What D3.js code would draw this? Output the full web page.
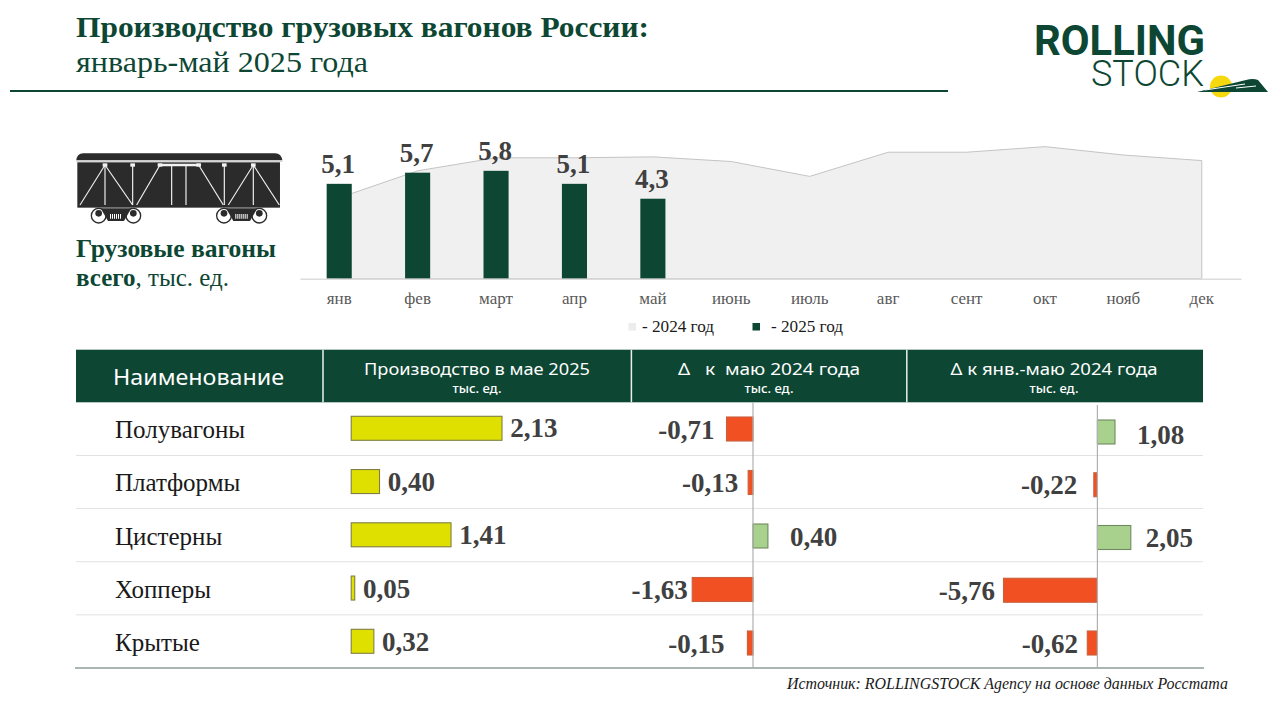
<!doctype html>
<html>
<head>
<meta charset="utf-8">
<title>Производство грузовых вагонов России</title>
<script src="https://cdn.jsdelivr.net/npm/d3@7"></script>
<style>
  body { margin: 0; background: #fff; }
  svg { display: block; }
  text { font-family: "Liberation Serif", serif; }
  .head { font-family: "Noto Sans", sans-serif; fill: #fff; text-anchor: middle; }
  .val { font-weight: bold; font-size: 27px; fill: #404040; }
  .row { font-size: 25px; fill: #1a1a1a; }
</style>
</head>
<body>
<svg id="chart" width="1280" height="709"></svg>
<script>
// data
var months = ["янв", "фев", "март", "апр", "май", "июнь", "июль", "авг", "сент", "окт", "нояб", "дек"];
var prod2024 = [4.35, 5.8, 6.5, 6.5, 6.55, 6.3, 5.5, 6.8, 6.8, 7.1, 6.65, 6.35];
var prod2025 = [5.1, 5.7, 5.8, 5.1, 4.3];
var wagonTypes = ["Полувагоны", "Платформы", "Цистерны", "Хопперы", "Крытые"];
var mayOutput = [2.13, 0.40, 1.41, 0.05, 0.32];
var deltaMay = [-0.71, -0.13, 0.40, -1.63, -0.15];
var deltaJanMay = [1.08, -0.22, 2.05, -5.76, -0.62];

// label gaps are uneven in the original
var gapMay = [8.2, 8.2, 8.2, 8.2, 8.2];
var gapDeltaMay = [12, 10, 22, 4.5, 23];
var gapDeltaJanMay = [22, 16.6, 15, 8.6, 9.4];
var dropDeltaJanMay = [2, 0, 0, 0, 0];
var dropNone = [-0.5, 0, 0, 0, 0];

var GREEN = "#0d4734";
var svg = d3.select("#chart");
var ru = d3.formatLocale({decimal: ",", thousands: " ", grouping: [3], currency: ["", ""], minus: "-"});
var f1 = ru.format(".1f"), f2 = ru.format(".2f");

// title
svg.append("text").attr("x", 76).attr("y", 37).attr("font-size", 30).attr("font-weight", "bold")
  .attr("fill", GREEN).attr("textLength", 573).attr("lengthAdjust", "spacingAndGlyphs")
  .text("Производство грузовых вагонов России:");
svg.append("text").attr("x", 76).attr("y", 72).attr("font-size", 29)
  .attr("fill", GREEN).attr("textLength", 292).attr("lengthAdjust", "spacingAndGlyphs")
  .text("январь-май 2025 года");
svg.append("line").attr("x1", 10).attr("x2", 948).attr("y1", 91).attr("y2", 91)
  .attr("stroke", GREEN).attr("stroke-width", 2);

// logo
var logo = svg.append("g");
logo.append("text").attr("x", 1034).attr("y", 54.5).attr("font-size", 42).attr("font-weight", 700)
  .style("font-family", "Roboto, sans-serif").attr("fill", GREEN)
  .attr("textLength", 171).attr("lengthAdjust", "spacingAndGlyphs").text("ROLLING");
logo.append("text").attr("x", 1091).attr("y", 85.5).attr("font-size", 37).attr("font-weight", 300)
  .style("font-family", "Roboto, sans-serif").attr("fill", GREEN)
  .attr("textLength", 113).attr("lengthAdjust", "spacingAndGlyphs").text("STOCK");
logo.append("ellipse").attr("cx", 1221).attr("cy", 86.5).attr("rx", 11).attr("ry", 11).attr("fill", "#f6d80f");
logo.append("path").attr("d", "M1197 92 L1246 80 Q1253 78 1258 80 L1268 92 Z").attr("fill", GREEN);
logo.append("path").attr("d", "M1205 90 L1245 84 M1236 88 L1256 86").attr("stroke", "#fff").attr("stroke-width", 1).attr("fill", "none");

// wagon icon
var wagon = svg.append("g").attr("transform", "translate(70,145) scale(0.3333)");
wagon.append("path").attr("d", "M18 50 Q20 25 40 25 L615 25 Q635 25 638 50 Z").attr("fill", "#2b2b2b");
wagon.append("rect").attr("x", 22).attr("y", 52).attr("width", 608).attr("height", 136).attr("fill", "#2b2b2b");
wagon.append("line").attr("x1", 18).attr("x2", 640).attr("y1", 48).attr("y2", 48).attr("stroke", "#fff").attr("stroke-width", 4);
var struts = [[105,30],[105,105],[105,188],[188,188],[270,200],[305,305],[348,348],[386,460],[463,463],[550,475],[550,550],[550,628]];
wagon.selectAll("line.strut").data(struts).enter().append("line").attr("class", "strut")
  .attr("x1", function(d) { return d[0]; }).attr("x2", function(d) { return d[1]; })
  .attr("y1", 60).attr("y2", 180).attr("stroke", "#f2f2f2").attr("stroke-width", 3.5);
wagon.append("line").attr("x1", 265).attr("x2", 392).attr("y1", 60).attr("y2", 60).attr("stroke", "#f2f2f2").attr("stroke-width", 8);
[105, 188, 270, 386, 463, 550].forEach(function(x) {
  wagon.append("rect").attr("x", x - 7).attr("y", 55).attr("width", 14).attr("height", 10).attr("fill", "#f2f2f2");
});
[[86, 190], [462, 568]].forEach(function(p) {
  p.forEach(function(x) {
    wagon.append("circle").attr("cx", x).attr("cy", 212).attr("r", 22)
      .attr("fill", "#fff").attr("stroke", "#2b2b2b").attr("stroke-width", 4);
    wagon.append("circle").attr("cx", x).attr("cy", 205).attr("r", 10).attr("fill", "#2b2b2b");
  });
  wagon.append("path").attr("d", "M" + (p[0] + 6) + " 190 L" + (p[1] - 6) + " 190 L" + (p[1] - 28) + " 228 L" + (p[0] + 28) + " 228 Z").attr("fill", "#2b2b2b");
  wagon.append("line").attr("x1", p[0] + 34).attr("x2", p[1] - 34).attr("y1", 214).attr("y2", 214)
    .attr("stroke", "#fff").attr("stroke-width", 14).attr("stroke-dasharray", "3 3");
});

// side caption
svg.append("text").attr("x", 76).attr("y", 257).attr("font-size", 25).attr("font-weight", "bold")
  .attr("fill", GREEN).attr("textLength", 200).attr("lengthAdjust", "spacingAndGlyphs").text("Грузовые вагоны");
var cap = svg.append("text").attr("x", 76).attr("y", 286).attr("font-size", 25).attr("fill", GREEN)
  .attr("textLength", 153).attr("lengthAdjust", "spacingAndGlyphs");
cap.append("tspan").attr("font-weight", "bold").text("всего");
cap.append("tspan").text(", тыс. ед.");

// monthly chart
var x = d3.scaleBand().domain(months).range([300, 1241]).paddingInner(0.68).paddingOuter(0.34);
var y = d3.scaleLinear().domain([0, 8]).range([278.7, 129.9]);
var cx = function(i) { return x(months[i]) + x.bandwidth() / 2; };

var area = d3.area().x(function(d, i) { return cx(i); }).y0(y(0)).y1(function(d) { return y(d); });
svg.append("path").datum(prod2024).attr("d", area)
  .attr("fill", "#f0f0f0").attr("stroke", "#c4c4c4").attr("stroke-width", 1);

svg.selectAll("rect.b25").data(prod2025).enter().append("rect").attr("class", "b25")
  .attr("x", function(d, i) { return x(months[i]); }).attr("width", x.bandwidth())
  .attr("y", function(d) { return y(d); }).attr("height", function(d) { return y(0) - y(d); })
  .attr("fill", GREEN);
svg.selectAll("text.l25").data(prod2025).enter().append("text").attr("class", "val")
  .attr("x", function(d, i) { return cx(i) - 1; }).attr("y", function(d) { return y(d) - 10.5; })
  .attr("text-anchor", "middle").text(function(d) { return f1(d); });

var xAxis = svg.append("g").attr("transform", "translate(0," + y(0) + ")")
  .call(d3.axisBottom(x).tickSize(0).tickPadding(13));
xAxis.select(".domain").attr("stroke", "#dcdcdc").attr("stroke-width", 1.5);
xAxis.selectAll("text").style("font-family", '"Liberation Serif", serif').attr("font-size", 17).attr("fill", "#595959");

// legend
var legend = [["- 2024 год", "#ececec", 628.5, 642], ["- 2025 год", GREEN, 752.5, 771]];
legend.forEach(function(l) {
  svg.append("rect").attr("x", l[2]).attr("y", 323).attr("width", 7.5).attr("height", 7.5).attr("fill", l[1]);
  svg.append("text").attr("x", l[3]).attr("y", 332).attr("font-size", 16).attr("fill", "#1a1a1a").attr("textLength", 72).attr("lengthAdjust", "spacingAndGlyphs").text(l[0]);
});

// table header
svg.append("rect").attr("x", 76).attr("y", 349.7).attr("width", 1127).attr("height", 52.6).attr("fill", GREEN);
[323, 631.4, 906.8].forEach(function(sx) {
  svg.append("line").attr("x1", sx).attr("x2", sx).attr("y1", 349.7).attr("y2", 402.3).attr("stroke", "#e8f0ec").attr("stroke-width", 1.5);
});
svg.append("text").attr("class", "head").attr("x", 198.5).attr("y", 385).attr("font-size", 22)
  .attr("textLength", 171).attr("lengthAdjust", "spacingAndGlyphs").text("Наименование");
var heads = [["Производство в мае 2025", 477, 226], ["Δ   к  маю 2024 года", 769, 182], ["Δ к янв.-маю 2024 года", 1054, 207]];
heads.forEach(function(h) {
  svg.append("text").attr("class", "head").attr("x", h[1]).attr("y", 375).attr("font-size", 17)
    .style("white-space", "pre").attr("textLength", h[2]).attr("lengthAdjust", "spacingAndGlyphs").text(h[0]);
  svg.append("text").attr("class", "head").attr("x", h[1]).attr("y", 392.5).attr("font-size", 13).attr("font-weight", 500).text("тыс. ед.");
});

// rows
var rowLines = d3.scaleBand().domain(wagonTypes).range([402.3, 668]);
wagonTypes.forEach(function(name, i) {
  var yy = rowLines(name) + rowLines.bandwidth();
  var last = i === wagonTypes.length - 1;
  svg.append("line").attr("x1", last ? 75 : 76).attr("x2", last ? 1204 : 1203).attr("y1", yy).attr("y2", yy)
    .attr("stroke", last ? "#8f9c97" : "#e2e2e2").attr("stroke-width", last ? 1.5 : 1);
  svg.append("text").attr("class", "row").attr("x", 115).attr("y", rowLines(name) + 36).text(name);
});

function rowScale(firstTop, step) {
  var pad = 1 - 24 / step, top = firstTop - (step - 24) / 2;
  return d3.scaleBand().domain(wagonTypes).range([top, top + 5 * step]).paddingInner(pad).paddingOuter(pad / 2);
}

function barPanel(values, gaps, drops, sx, sy, fillOf, strokeOf) {
  var g = svg.append("g");
  g.selectAll("rect").data(values).enter().append("rect")
    .attr("x", function(d) { return Math.min(sx(0), sx(d)); })
    .attr("width", function(d) { return Math.abs(sx(d) - sx(0)); })
    .attr("y", function(d, i) { return sy(wagonTypes[i]); })
    .attr("height", sy.bandwidth())
    .attr("fill", fillOf).attr("stroke", strokeOf).attr("stroke-width", 1.1);
  g.selectAll("text").data(values).enter().append("text").attr("class", "val")
    .attr("x", function(d, i) { return d < 0 ? sx(d) - gaps[i] : sx(d) + gaps[i]; })
    .attr("y", function(d, i) { return sy(wagonTypes[i]) + sy.bandwidth() / 2 + 9.5 + drops[i]; })
    .attr("text-anchor", function(d) { return d < 0 ? "end" : "start"; })
    .text(function(d) { return f2(d); });
}

var signFill = function(d) { return d < 0 ? "#f15122" : "#a9d18e"; };
var signStroke = function(d) { return d < 0 ? "#c9603f" : "#6f8a60"; };

var xMay = d3.scaleLinear().domain([0, 3]).range([351.2, 563.6]);
barPanel(mayOutput, gapMay, dropNone, xMay, rowScale(416.3, 53.25), "#e0e000", "#7f7f45");

var xDeltaMay = d3.scaleLinear().domain([0, 2]).range([753, 827.6]);
barPanel(deltaMay, gapDeltaMay, [0, 0, 0, 0, 0], xDeltaMay, rowScale(417, 53.5), signFill, signStroke);

var xDeltaJanMay = d3.scaleLinear().domain([0, 6]).range([1097.4, 1195.2]);
barPanel(deltaJanMay, gapDeltaJanMay, dropDeltaJanMay, xDeltaJanMay, rowScale(420, 52.75), signFill, signStroke);

[[xDeltaMay, 402.3], [xDeltaJanMay, 405]].forEach(function(p) {
  svg.append("line").attr("x1", p[0](0)).attr("x2", p[0](0)).attr("y1", p[1]).attr("y2", 668)
    .attr("stroke", "#b0b0b0").attr("stroke-width", 1.2);
});

// source
svg.append("text").attr("x", 787).attr("y", 689).attr("font-size", 16).attr("font-style", "italic")
  .attr("fill", "#1a1a1a").attr("textLength", 441).attr("lengthAdjust", "spacingAndGlyphs")
  .text("Источник: ROLLINGSTOCK Agency на основе данных Росстата");
</script>
</body>
</html>
